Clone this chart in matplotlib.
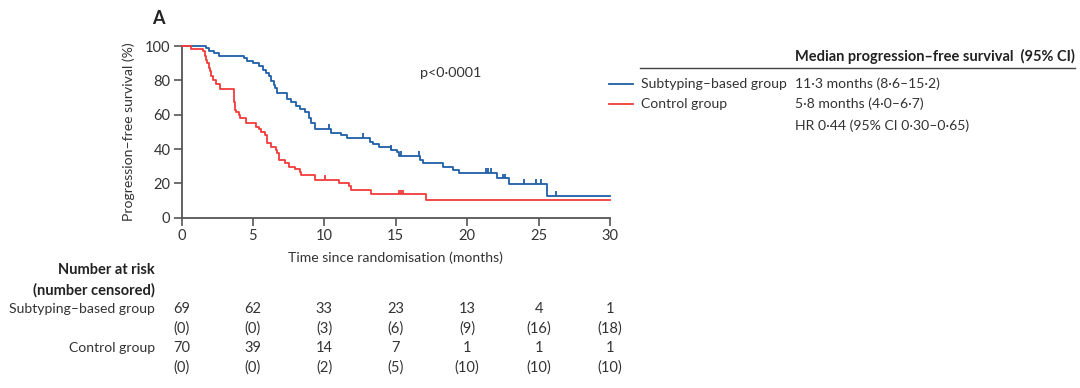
import numpy as np
import matplotlib
matplotlib.use("Agg")
import matplotlib.pyplot as plt
from matplotlib.lines import Line2D
import matplotlib.transforms as mtransforms

plt.rcParams['font.family'] = ['Lato', 'DejaVu Sans']

# ---------------- data ----------------
groups = ["Subtyping\u2013based group", "Control group"]
colors = ["#1f5fa9", "#f23a3a"]

blue_time = [0, 1.7, 1.9, 2.3, 2.6, 4.4, 4.6, 5.0, 5.45, 5.7, 5.9, 6.1, 6.3, 6.45, 6.55,
             6.7, 7.4, 7.7, 8.05, 8.3, 8.65, 8.9, 9.1, 9.35, 10.5, 11.2, 11.6, 13.2, 13.4,
             13.8, 14.7, 15.1, 15.2, 16.7, 16.9, 18.3, 19.0, 19.4, 22.1, 22.9, 25.6]
blue_surv = [100, 98.6, 97.1, 95.7, 94.2, 92.8, 91.3, 89.9, 88.4, 86.2, 84.3, 82.6, 79.7,
             77.5, 75.5, 72.4, 69.0, 67.4, 64.9, 63.3, 61.6, 58.1, 55.2, 51.8, 49.6, 48.1,
             46.4, 44.3, 42.9, 41.0, 39.4, 38.0, 35.9, 33.6, 31.7, 29.7, 27.8, 25.9, 22.9,
             19.6, 12.8]
blue_censor = [10.35, 12.7, 14.7, 15.4, 16.6, 21.3, 21.45, 21.7, 22.5, 22.65, 24.0, 24.8,
               25.2, 26.2]

red_time = [0, 0.7, 1.5, 1.65, 1.75, 1.8, 1.9, 2.0, 2.1, 2.2, 2.45, 2.7, 3.65, 3.7, 3.75,
            3.85, 4.0, 4.1, 4.5, 5.2, 5.4, 5.6, 5.85, 5.97, 6.3, 6.6, 6.7, 6.8, 7.25, 7.5,
            7.95, 8.3, 8.4, 9.35, 11.0, 11.75, 11.9, 13.25, 17.1]
red_surv = [100, 98.4, 96.9, 94.3, 92.0, 90.0, 87.1, 85.3, 82.3, 80.4, 77.9, 75.1, 71.5,
            67.5, 62.9, 61.4, 60.0, 58.1, 55.2, 53.0, 51.6, 50.0, 48.2, 43.3, 41.4, 39.4,
            37.5, 33.6, 32.0, 29.7, 28.6, 26.8, 24.9, 21.9, 20.0, 18.5, 16.1, 13.6, 10.3]
red_censor = [10.05, 15.2, 15.4, 15.5]

risk_times = [0, 5, 10, 15, 20, 25, 30]
risk_blue = [69, 62, 33, 23, 13, 4, 1]
cens_blue = [0, 0, 3, 6, 9, 16, 18]
risk_red = [70, 39, 14, 7, 1, 1, 1]
cens_red = [0, 0, 2, 5, 10, 10, 10]

median_text = ["11\u00b73 months (8\u00b76\u201315\u00b72)", "5\u00b78 months (4\u00b70\u20136\u00b77)"]
hr_text = "HR 0\u00b744 (95% CI 0\u00b730\u20130\u00b765)"
p_text = "p<0\u00b70001"

# ---------------- figure ----------------
W, H = 1080, 388
fig = plt.figure(figsize=(W / 100, H / 100), dpi=100)

def fx(x):
    return x / W

def fy(y):
    return 1 - y / H

ax_l, ax_r, ax_t, ax_b = 181.5, 610, 46, 217.7
ax = fig.add_axes([fx(ax_l), fy(ax_b), fx(ax_r - ax_l), (ax_b - ax_t) / H])
ax.set_xlim(0, 30)
ax.set_ylim(0, 100)

txtc = "#333333"
spc = "#555555"
fs = 10.1

def draw_km(t, s, cens, c):
    tt = list(t) + [30]
    ss = list(s) + [s[-1]]
    ax.step(tt, ss, where="post", color=c, lw=1.3, clip_on=False, zorder=3)
    t_arr = np.array(t)
    s_arr = np.array(s)
    idx = np.searchsorted(t_arr, np.array(cens), side="right") - 1
    cs = s_arr[idx]
    ax.vlines(cens, cs, cs + 2.8, color=c, lw=1.3, zorder=3)

draw_km(blue_time, blue_surv, blue_censor, colors[0])
draw_km(red_time, red_surv, red_censor, colors[1])

for side in ["top", "right"]:
    ax.spines[side].set_visible(False)
for side in ["left", "bottom"]:
    ax.spines[side].set_color(spc)
    ax.spines[side].set_linewidth(1.3)
ax.set_xticks(risk_times)
ax.set_yticks([0, 20, 40, 60, 80, 100])
ax.tick_params(axis="both", length=6, width=1.2, color=spc, labelsize=10.5,
               labelcolor=txtc, pad=2)
ax.set_ylabel("Progression\u2013free survival (%)", fontsize=fs, color=txtc, labelpad=7)
ax.set_xlabel("Time since randomisation (months)", fontsize=fs, color=txtc, labelpad=6)

ax.text(16.7, 84, p_text, fontsize=10.4, color=txtc, va="center", ha="left")

fig.text(fx(152), fy(19), "A", fontsize=13, fontweight="bold", color="#222222",
         va="center", ha="left")

# legend / median table
fig.add_artist(Line2D([fx(640), fx(1075)], [fy(68), fy(68)], color="#444444", lw=1.0))
fig.text(fx(795), fy(56), "Median progression\u2013free survival  (95% CI)", fontsize=10.5,
         fontweight="bold", color="#222222", va="center", ha="left")
rows_y = [84, 104]
for g, c, m, y in zip(groups, colors, median_text, rows_y):
    fig.add_artist(Line2D([fx(609), fx(633)], [fy(y), fy(y)], color=c, lw=1.3))
    fig.text(fx(641), fy(y), g, fontsize=fs, color=txtc, va="center", ha="left")
    fig.text(fx(795), fy(y), m, fontsize=fs, color=txtc, va="center", ha="left")
fig.text(fx(795), fy(126), hr_text, fontsize=fs, color=txtc, va="center", ha="left")

# number at risk table
trans = mtransforms.blended_transform_factory(ax.transData, fig.transFigure)
fig.text(fx(155), fy(270), "Number at risk", fontsize=10.5, fontweight="bold",
         color="#222222", va="center", ha="right")
fig.text(fx(155), fy(290), "(number censored)", fontsize=10.5, fontweight="bold",
         color="#222222", va="center", ha="right")
table_rows = [(groups[0], risk_blue, cens_blue, 309, 329),
              (groups[1], risk_red, cens_red, 348, 368)]
for name, risk, cens, y1, y2 in table_rows:
    fig.text(fx(155), fy(y1), name, fontsize=fs, color=txtc, va="center", ha="right")
    for t, r, cc in zip(risk_times, risk, cens):
        ax.text(t, fy(y1), str(r), transform=trans, fontsize=10.5, color=txtc,
                va="center", ha="center")
        ax.text(t, fy(y2), "(%d)" % cc, transform=trans, fontsize=10.5, color=txtc,
                va="center", ha="center")

fig.savefig("out.png", dpi=100)
